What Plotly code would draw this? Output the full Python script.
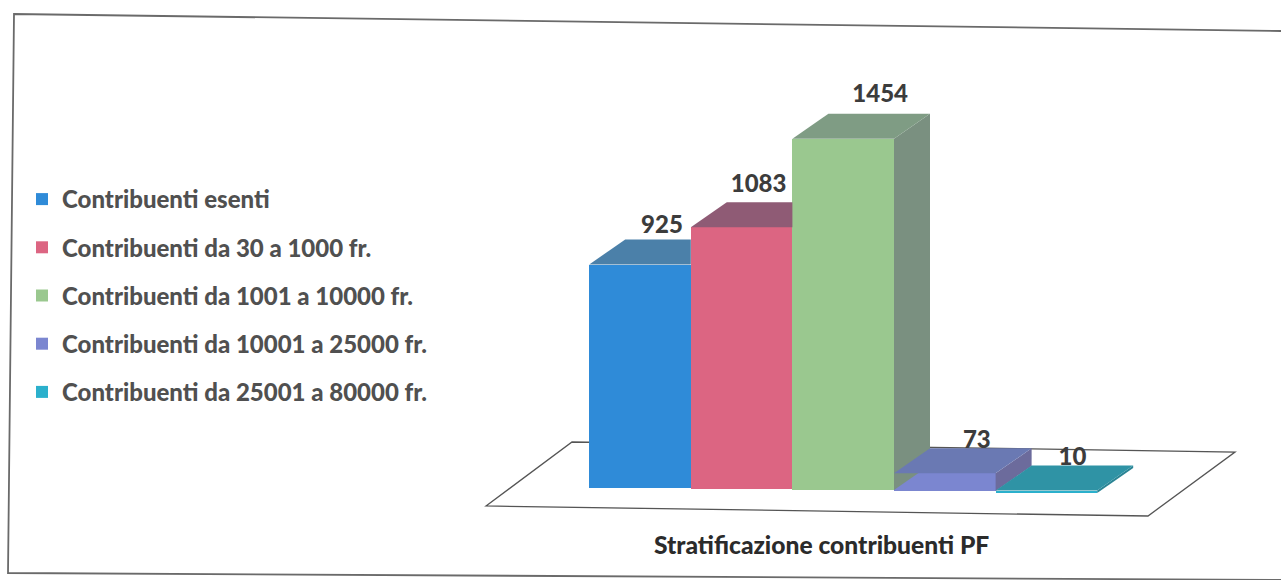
import plotly.graph_objects as go

categories = ["Contribuenti esenti", "Contribuenti da 30 a 1000 fr.", "Contribuenti da 1001 a 10000 fr.",
              "Contribuenti da 10001 a 25000 fr.", "Contribuenti da 25001 a 80000 fr."]
values = [925, 1083, 1454, 73, 10]
chart_title = "Stratificazione contribuenti PF"

front_colors = ["#2f8bd8", "#dc6582", "#9ac88f", "#7b86d0", "#2bb0cc"]
top_colors = ["#4b80a9", "#8f5b75", "#7f9c84", "#6a79b3", "#2f93a5"]
side_colors = ["#3f6f94", "#7d5068", "#7a9080", "#6c6b9c", "#2a8494"]

W, H = 1281, 580
PX_X = 101.6          # pixels per category step
PX_Y = 0.2416         # pixels per contributor
X0_PX = 640.0         # pixel of category 0
Y0_PX = 488.0         # pixel of value 0
DEPTH_X = 36 / PX_X   # oblique depth of a column, in axis units
DEPTH_Y = 25 / PX_Y
SKEW = [0, 1, 2, 3, 5]                      # scan tilt in px, per column
LABEL_DX = [22, 17, 37, 32, 26]             # label offset from column centre, px
LABEL_DY = [13, 16, 18, 6, 7]               # label offset above back edge, px

bases = [-s / PX_Y for s in SKEW]
fig = go.Figure()

for i, (name, v) in enumerate(zip(categories, values)):
    fig.add_trace(go.Bar(x=[i], y=[v], base=[bases[i]], width=1, name=name,
                         marker=dict(color=front_colors[i], line=dict(width=0)),
                         legendgroup=name, hoverinfo="name+y"))

for i, v in enumerate(values):
    top = bases[i] + v
    L, R = i - 0.5, i + 0.5
    next_taller = i + 1 < len(values) and bases[i + 1] + values[i + 1] > top
    back_r = R if next_taller else R + DEPTH_X
    if not next_taller:
        fig.add_trace(go.Scatter(
            x=[R, R + DEPTH_X, R + DEPTH_X, R, R],
            y=[top, top + DEPTH_Y, bases[i] + DEPTH_Y, bases[i], top],
            mode="lines", fill="toself", fillcolor=side_colors[i], line=dict(width=0),
            showlegend=False, hoverinfo="skip"))
    fig.add_trace(go.Scatter(
        x=[L, L + DEPTH_X, back_r, R, L],
        y=[top, top + DEPTH_Y, top + DEPTH_Y, top, top],
        mode="lines", fill="toself", fillcolor=top_colors[i], line=dict(width=0),
        showlegend=False, hoverinfo="skip"))

fig.add_trace(go.Scatter(
    x=[i + LABEL_DX[i] / PX_X for i in range(len(values))],
    y=[bases[i] + values[i] + DEPTH_Y + LABEL_DY[i] / PX_Y for i in range(len(values))],
    mode="text", text=[str(v) for v in values], textposition="middle center",
    textfont=dict(family="Lato", size=24, color="#3c3c3c", weight=900),
    showlegend=False, hoverinfo="skip"))


def px(x, y):
    return x / W, 1 - y / H


def path(points, close=True):
    pts = [px(*p) for p in points]
    return "M " + " L ".join(f"{a:.5f},{b:.5f}" for a, b in pts) + (" Z" if close else "")


shapes = [
    dict(type="path", xref="paper", yref="paper", layer="below",
         path=path([(1281, 31), (14, 14), (8, 573), (1281, 580)], close=False),
         line=dict(color="#6a6a6a", width=1.8)),
    dict(type="path", xref="paper", yref="paper", layer="below",
         path=path([(486, 506), (572, 442), (1235, 452), (1148, 516)]),
         line=dict(color="#555555", width=1.3), fillcolor="white"),
]

fig.update_layout(
    width=W, height=H, margin=dict(l=0, r=0, t=0, b=0),
    paper_bgcolor="white", plot_bgcolor="rgba(0,0,0,0)",
    barmode="overlay", bargap=0,
    xaxis=dict(visible=False, range=[-X0_PX / PX_X, (W - X0_PX) / PX_X]),
    yaxis=dict(visible=False, range=[-(H - Y0_PX) / PX_Y, Y0_PX / PX_Y]),
    shapes=shapes,
    legend=dict(x=22 / W, y=1 - 177 / H, xanchor="left", yanchor="top",
                traceorder="grouped", tracegroupgap=14, itemwidth=30,
                bgcolor="rgba(0,0,0,0)",
                font=dict(family="Lato", size=24, color="#505050", weight=900)),
    annotations=[dict(text=chart_title, xref="paper", yref="paper", showarrow=False,
                      x=821 / W, y=1 - 544 / H, xanchor="center", yanchor="middle",
                      font=dict(family="Lato", size=24.6, color="#2b2b2b", weight=900))],
)

fig.write_html("out.html", config=dict(displayModeBar=False),
               post_script="document.body.style.margin='0';")
